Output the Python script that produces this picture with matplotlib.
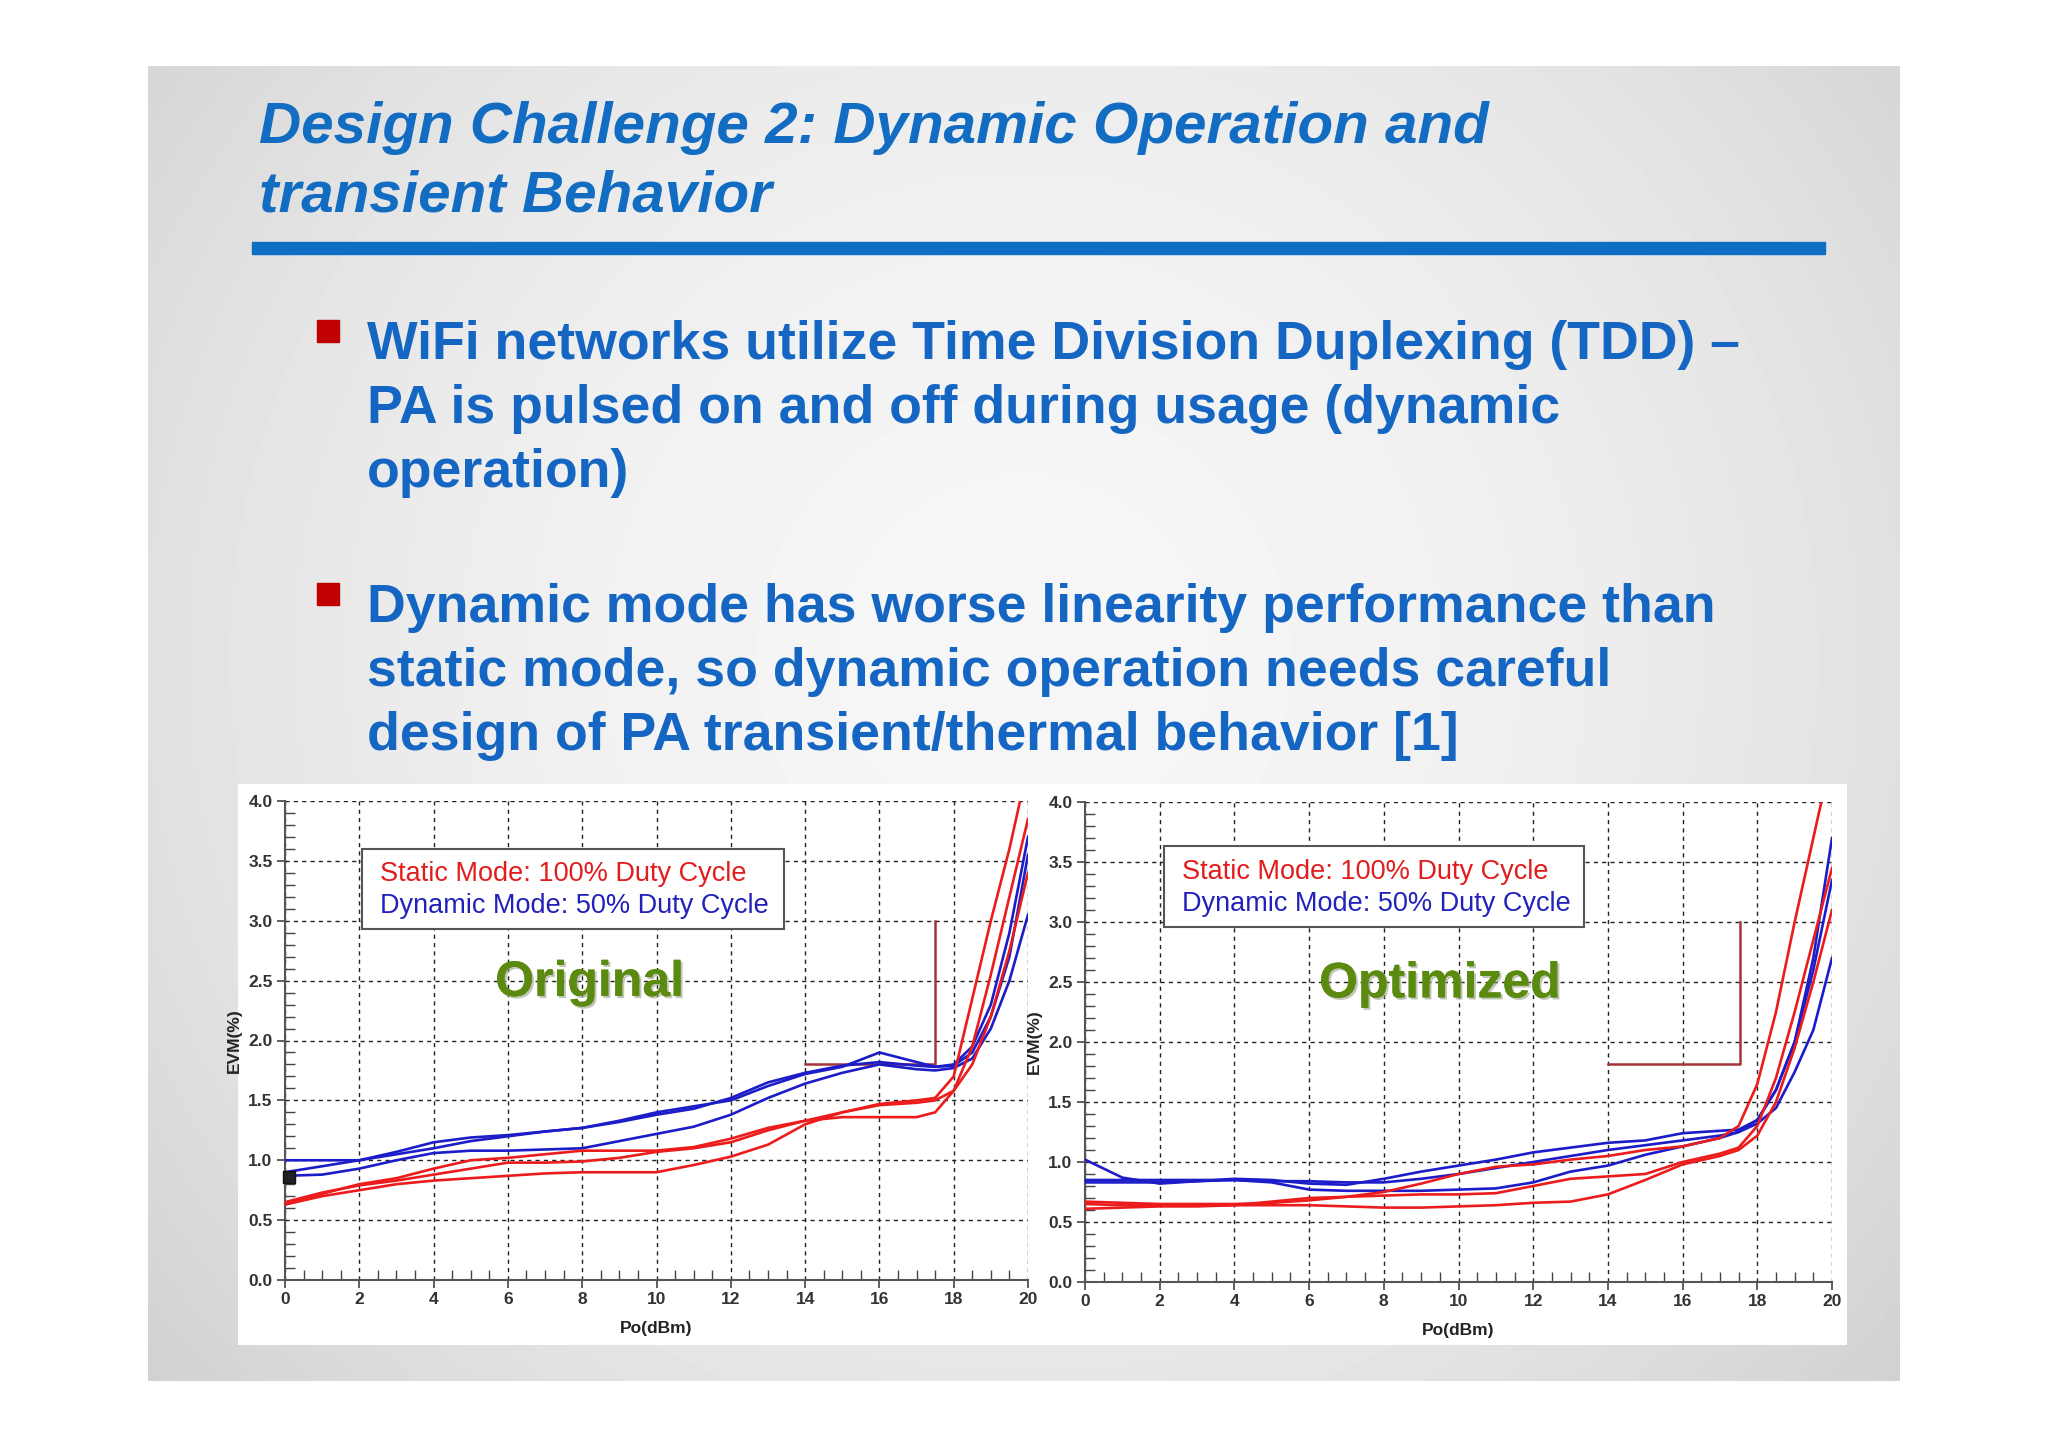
import numpy as np
import matplotlib
matplotlib.use("Agg")
import matplotlib.pyplot as plt
from matplotlib.patches import Rectangle
from matplotlib.ticker import MultipleLocator
import matplotlib.patheffects as pe

plt.rcParams['font.family'] = ['Liberation Sans', 'DejaVu Sans']

# --- slide text ---
title_lines = ["Design Challenge 2: Dynamic Operation and", "transient Behavior"]
bullet_1 = ["WiFi networks utilize Time Division Duplexing (TDD) \u2013",
            "PA is pulsed on and off during usage (dynamic",
            "operation)"]
bullet_2 = ["Dynamic mode has worse linearity performance than",
            "static mode, so dynamic operation needs careful",
            "design of PA transient/thermal behavior [1]"]
legend_static = "Static Mode: 100% Duty Cycle"
legend_dynamic = "Dynamic Mode: 50% Duty Cycle"
panel_names = ["Original", "Optimized"]

# --- EVM(%) vs Po(dBm) ---
po = [0, 1, 2, 3, 4, 5, 6, 7, 8, 9, 10, 11, 12, 13, 14, 15, 16, 17,
      17.5, 18, 18.5, 19, 19.5, 20]

orig_dynamic = [
    [1.00, 1.00, 1.00, 1.07, 1.15, 1.19, 1.21, 1.24, 1.27, 1.32, 1.38, 1.43,
     1.52, 1.65, 1.73, 1.79, 1.82, 1.79, 1.78, 1.80, 1.95, 2.30, 2.90, 3.70],
    [0.90, 0.95, 1.00, 1.05, 1.10, 1.16, 1.20, 1.24, 1.27, 1.33, 1.40, 1.45,
     1.50, 1.62, 1.72, 1.78, 1.90, 1.82, 1.78, 1.79, 1.90, 2.20, 2.70, 3.55],
    [0.87, 0.88, 0.93, 1.00, 1.06, 1.08, 1.08, 1.09, 1.10, 1.16, 1.22, 1.28,
     1.38, 1.52, 1.64, 1.73, 1.80, 1.76, 1.75, 1.77, 1.85, 2.10, 2.50, 3.05],
]
orig_static = [
    [0.63, 0.72, 0.80, 0.85, 0.93, 1.00, 1.02, 1.05, 1.08, 1.08, 1.08, 1.11,
     1.18, 1.27, 1.33, 1.40, 1.47, 1.50, 1.52, 1.70, 2.35, 3.00, 3.60, 4.30],
    [0.65, 0.73, 0.79, 0.83, 0.88, 0.93, 0.98, 0.98, 0.99, 1.02, 1.07, 1.10,
     1.15, 1.25, 1.33, 1.36, 1.36, 1.36, 1.40, 1.58, 1.95, 2.55, 3.20, 3.85],
    [0.63, 0.70, 0.75, 0.80, 0.83, 0.85, 0.87, 0.89, 0.90, 0.90, 0.90, 0.96,
     1.03, 1.13, 1.30, 1.40, 1.46, 1.48, 1.50, 1.58, 1.80, 2.20, 2.75, 3.40],
]
opt_dynamic = [
    [1.02, 0.87, 0.82, 0.84, 0.86, 0.85, 0.82, 0.81, 0.86, 0.92, 0.97, 1.02,
     1.08, 1.12, 1.16, 1.18, 1.24, 1.26, 1.27, 1.35, 1.60, 2.00, 2.70, 3.70],
    [0.85, 0.85, 0.85, 0.85, 0.85, 0.84, 0.84, 0.83, 0.83, 0.86, 0.90, 0.95,
     1.00, 1.05, 1.10, 1.14, 1.18, 1.22, 1.25, 1.35, 1.60, 2.00, 2.60, 3.35],
    [0.83, 0.83, 0.83, 0.84, 0.85, 0.83, 0.77, 0.76, 0.76, 0.76, 0.77, 0.78,
     0.83, 0.92, 0.97, 1.06, 1.13, 1.20, 1.25, 1.32, 1.45, 1.75, 2.10, 2.70],
]
opt_static = [
    [0.67, 0.66, 0.65, 0.65, 0.65, 0.66, 0.68, 0.71, 0.75, 0.82, 0.90, 0.96,
     0.98, 1.02, 1.05, 1.10, 1.13, 1.20, 1.30, 1.65, 2.25, 3.00, 3.70, 4.40],
    [0.65, 0.64, 0.64, 0.64, 0.64, 0.67, 0.70, 0.71, 0.72, 0.73, 0.73, 0.74,
     0.80, 0.86, 0.88, 0.90, 1.00, 1.07, 1.12, 1.30, 1.70, 2.25, 2.85, 3.45],
    [0.61, 0.62, 0.63, 0.63, 0.64, 0.64, 0.64, 0.63, 0.62, 0.62, 0.63, 0.64,
     0.66, 0.67, 0.73, 0.85, 0.98, 1.05, 1.10, 1.22, 1.50, 1.95, 2.50, 3.10],
]

# red bracket drawn on each plot (x, y)
orig_bracket_x = [14, 17.5, 17.5]
orig_bracket_y = [1.8, 1.8, 3.0]
opt_bracket_x = [14, 17.55, 17.55]
opt_bracket_y = [1.82, 1.82, 3.0]

W, H = 2048, 1448
fig = plt.figure(figsize=(W / 100, H / 100), dpi=100)
fig.patch.set_facecolor('white')


def fx(px):
    return px / W


def fy(py):
    return 1 - py / H


# slide background: soft grey vignette
bg = fig.add_axes([fx(148), fy(1381), fx(1900 - 148), (1381 - 66) / H], zorder=-2)
u = np.linspace(-1, 1, 300)
v = np.linspace(-1, 1, 220)
U, V = np.meshgrid(u, v)
shade = 0.965 - 0.085 * U ** 2 - 0.05 * (V + 0.1) ** 2
bg.imshow(shade, cmap='gray', vmin=0, vmax=1, aspect='auto',
          extent=[0, 1, 0, 1], interpolation='bilinear')
bg.set_axis_off()

title_blue = '#126cc2'
text_blue = '#1466c2'
for i, line in enumerate(title_lines):
    fig.text(fx(259), fy(143 + 69 * i), line, fontsize=42, fontweight='bold',
             fontstyle='italic', color=title_blue, va='baseline')

fig.patches.append(Rectangle((fx(252), fy(254)), fx(1825 - 252), 12 / H,
                             transform=fig.transFigure, color='#0e6ec4'))

for lines, y0 in [(bullet_1, 359), (bullet_2, 622)]:
    fig.patches.append(Rectangle((fx(317), fy(y0 - 17)), fx(22), 22 / H,
                                 transform=fig.transFigure, color='#c00000'))
    for i, line in enumerate(lines):
        fig.text(fx(367), fy(y0 + 64 * i), line, fontsize=38.6,
                 fontweight='bold', color=text_blue, va='baseline')

# white panel holding the two measurement plots
panel = fig.add_axes([fx(238), fy(1345), fx(1847 - 238), 561 / H], zorder=-1)
panel.set_facecolor('white')
panel.set_xticks([])
panel.set_yticks([])
for s in panel.spines.values():
    s.set_visible(False)

panels = [
    ([fx(285), fy(1280), fx(1028 - 285), 479 / H], orig_static, orig_dynamic,
     orig_bracket_x, orig_bracket_y, (2.07, 2.93, 11.36, 0.67), 8.2),
    ([fx(1085), fy(1282), fx(1832 - 1085), 480 / H], opt_static, opt_dynamic,
     opt_bracket_x, opt_bracket_y, (2.11, 2.96, 11.25, 0.67), 9.5),
]

plot_axes = []
for k, (rect, static, dynamic, bx, by, box, name_x) in enumerate(panels):
    ax = fig.add_axes(rect, zorder=1)
    plot_axes.append(ax)
    ax.set_facecolor('white')
    for ys in dynamic:
        ax.plot(po, ys, color='#1c1cc8', lw=1.9, zorder=3)
    for ys in static:
        ax.plot(po, ys, color='#ec1c1c', lw=1.9, zorder=3)
    ax.plot(bx, by, color='#a3353a', lw=1.8, zorder=2)

    ax.set_xlim(0, 20)
    ax.set_ylim(0, 4)
    ax.set_xticks(range(0, 21, 2))
    ax.set_yticks(np.arange(0, 4.01, 0.5))
    ax.set_yticklabels([f"{t:.1f}" for t in np.arange(0, 4.01, 0.5)])
    ax.xaxis.set_minor_locator(MultipleLocator(0.5))
    ax.yaxis.set_minor_locator(MultipleLocator(0.1))
    ax.tick_params(which='major', direction='out', length=6, width=1.2,
                   color='#444444', labelsize=12.5, labelcolor='#333333', pad=3)
    ax.tick_params(which='minor', direction='in', length=7, width=1.0,
                   color='#444444')
    for lab in ax.get_xticklabels() + ax.get_yticklabels():
        lab.set_fontweight('bold')
    for s in ['top', 'right']:
        ax.spines[s].set_visible(False)
    for s in ['left', 'bottom']:
        ax.spines[s].set_color('#555555')
        ax.spines[s].set_linewidth(1.5)
    ax.grid(which='major', ls=(0, (3, 3)), color='#222222', lw=1.0, zorder=1)
    ax.set_axisbelow(True)

    ax.set_ylabel('EVM(%)', fontsize=12.5, fontweight='bold', color='#222222')
    ax.yaxis.set_label_coords(-0.058, 0.5)
    ax.set_xlabel('Po(dBm)', fontsize=12.5, fontweight='bold', color='#222222')
    ax.xaxis.set_label_coords(0.5, -0.085)

    bx0, by0, bw, bh = box
    ax.add_patch(Rectangle((bx0, by0), bw, bh, facecolor='white',
                           edgecolor='#555555', lw=1.5, zorder=4))
    ax.text(bx0 + 0.5, by0 + 0.46, legend_static, fontsize=19.5,
            color='#e21d1d', va='center', zorder=5)
    ax.text(bx0 + 0.5, by0 + 0.19, legend_dynamic, fontsize=19.5,
            color='#2222bb', va='center', zorder=5)

    ax.text(name_x, 2.48, panel_names[k], fontsize=36, fontweight='bold',
            color='#5a8a10', ha='center', va='center', zorder=5,
            path_effects=[pe.withSimplePatchShadow(offset=(1.5, -1.5),
                                                   shadow_rgbFace='#9aa08a',
                                                   alpha=0.6),
                          pe.Normal()])

# small marker box at the start of the original plot
plot_axes[0].plot([0.1], [0.86], marker='s', ms=8, color='#222222',
                  mec='#111111', zorder=6, clip_on=False)

fig.savefig('out.png', dpi=100)
